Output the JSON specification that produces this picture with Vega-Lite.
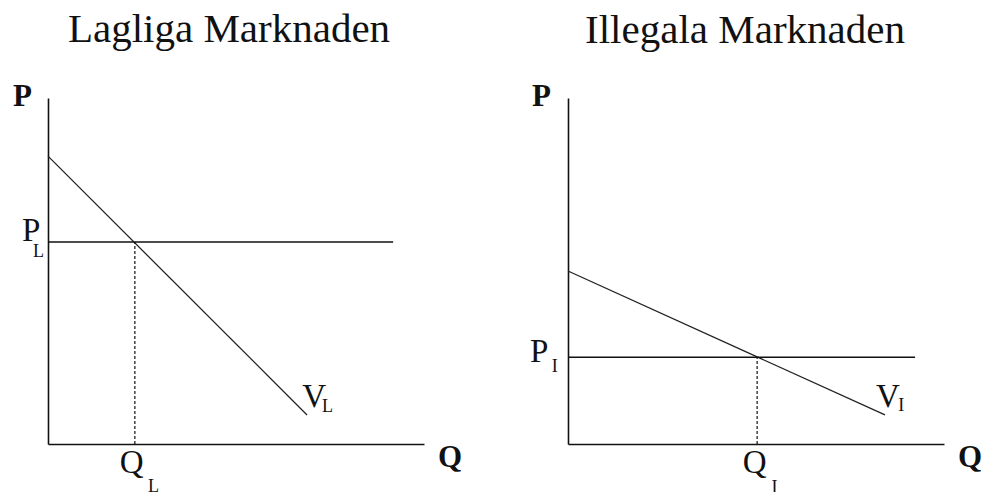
{
  "$schema": "https://vega.github.io/schema/vega-lite/v6.json",
  "background": "white",
  "padding": {"left": 13, "top": 8, "right": 0, "bottom": 0},
  "spacing": 144,
  "bounds": "flush",
  "config": {
    "view": {"stroke": null},
    "axis": {"domain": true, "domainColor": "#111", "domainWidth": 1.6, "ticks": false, "labels": false, "grid": false, "title": null},
    "text": {"font": "Liberation Serif", "color": "#111", "align": "left", "baseline": "alphabetic"}
  },
  "hconcat": [
    {
      "width": 376,
      "height": 346,
      "title": {"text": "Lagliga Marknaden", "font": "Liberation Serif", "fontSize": 41, "fontWeight": "normal", "color": "#111", "anchor": "middle", "baseline": "alphabetic", "frame": "group", "offset": -2, "dx": -7},
      "encoding": {
        "x": {"field": "q1", "type": "quantitative", "scale": {"domain": [0, 10], "nice": false}, "axis": {}},
        "y": {"field": "p1", "type": "quantitative", "scale": {"domain": [0, 10], "nice": false}, "axis": {}}
      },
      "layer": [
        {
          "data": {"values": [{"name": "VL", "q1": 0, "p1": 8.32, "q2": 6.89, "p2": 0.84}]},
          "mark": {"type": "rule", "color": "#222", "strokeWidth": 1.3},
          "encoding": {"x2": {"field": "q2"}, "y2": {"field": "p2"}}
        },
        {
          "data": {"values": [{"name": "PL", "q1": 0, "p1": 5.84, "q2": 9.18, "p2": 5.84}]},
          "mark": {"type": "rule", "color": "#111", "strokeWidth": 1.5},
          "encoding": {"x2": {"field": "q2"}, "y2": {"field": "p2"}}
        },
        {
          "data": {"values": [{"name": "QL", "q1": 2.31, "p1": 0, "q2": 2.31, "p2": 5.84}]},
          "mark": {"type": "rule", "color": "#111", "strokeWidth": 1.2, "strokeDash": [3, 2]},
          "encoding": {"x2": {"field": "q2"}, "y2": {"field": "p2"}}
        },
        {
          "data": {"values": [{"label": "P", "q1": -0.93, "p1": 9.77}, {"label": "Q", "q1": 10.37, "p1": -0.66}]},
          "mark": {"type": "text", "fontSize": 31, "fontWeight": "bold"},
          "encoding": {"text": {"field": "label"}}
        },
        {
          "data": {"values": [{"label": "P", "q1": -0.69, "p1": 5.87}, {"label": "Q", "q1": 1.91, "p1": -0.84}, {"label": "V", "q1": 6.76, "p1": 1.07}]},
          "mark": {"type": "text", "fontSize": 33},
          "encoding": {"text": {"field": "label"}}
        },
        {
          "data": {"values": [{"label": "L", "q1": -0.4, "p1": 5.4}, {"label": "L", "q1": 2.66, "p1": -1.4}, {"label": "L", "q1": 7.29, "p1": 0.92}]},
          "mark": {"type": "text", "fontSize": 18},
          "encoding": {"text": {"field": "label"}}
        }
      ]
    },
    {
      "width": 376,
      "height": 346,
      "title": {"text": "Illegala Marknaden", "font": "Liberation Serif", "fontSize": 41, "fontWeight": "normal", "color": "#111", "anchor": "middle", "baseline": "alphabetic", "frame": "group", "offset": -3, "dx": -11},
      "encoding": {
        "x": {"field": "q1", "type": "quantitative", "scale": {"domain": [0, 10], "nice": false}, "axis": {}},
        "y": {"field": "p1", "type": "quantitative", "scale": {"domain": [0, 10], "nice": false}, "axis": {}}
      },
      "layer": [
        {
          "data": {"values": [{"name": "VI", "q1": 0, "p1": 5.0, "q2": 8.43, "p2": 0.84}]},
          "mark": {"type": "rule", "color": "#222", "strokeWidth": 1.3},
          "encoding": {"x2": {"field": "q2"}, "y2": {"field": "p2"}}
        },
        {
          "data": {"values": [{"name": "PI", "q1": 0, "p1": 2.51, "q2": 9.23, "p2": 2.51}]},
          "mark": {"type": "rule", "color": "#111", "strokeWidth": 1.5},
          "encoding": {"x2": {"field": "q2"}, "y2": {"field": "p2"}}
        },
        {
          "data": {"values": [{"name": "QI", "q1": 5.03, "p1": 0, "q2": 5.03, "p2": 2.51}]},
          "mark": {"type": "rule", "color": "#111", "strokeWidth": 1.2, "strokeDash": [3, 2]},
          "encoding": {"x2": {"field": "q2"}, "y2": {"field": "p2"}}
        },
        {
          "data": {"values": [{"label": "P", "q1": -0.96, "p1": 9.77}, {"label": "Q", "q1": 10.37, "p1": -0.66}]},
          "mark": {"type": "text", "fontSize": 31, "fontWeight": "bold"},
          "encoding": {"text": {"field": "label"}}
        },
        {
          "data": {"values": [{"label": "P", "q1": -1.01, "p1": 2.37}, {"label": "Q", "q1": 4.65, "p1": -0.84}, {"label": "V", "q1": 8.19, "p1": 1.07}]},
          "mark": {"type": "text", "fontSize": 33},
          "encoding": {"text": {"field": "label"}}
        },
        {
          "data": {"values": [{"label": "I", "q1": -0.43, "p1": 2.08}, {"label": "I", "q1": 5.41, "p1": -1.42}, {"label": "I", "q1": 8.78, "p1": 0.95}]},
          "mark": {"type": "text", "fontSize": 18},
          "encoding": {"text": {"field": "label"}}
        }
      ]
    }
  ]
}
